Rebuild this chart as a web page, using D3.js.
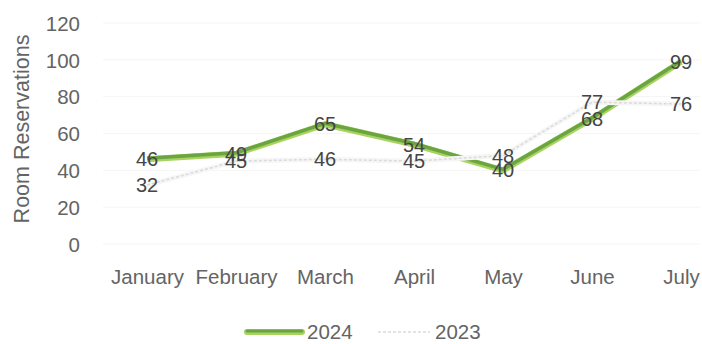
<!DOCTYPE html>
<html>
<head>
<meta charset="utf-8">
<script src="https://cdn.jsdelivr.net/npm/d3@7"></script>
<style>
  html, body { margin: 0; padding: 0; background: #fff; }
  svg { display: block; font-family: "Liberation Sans", Arial, sans-serif; }
</style>
</head>
<body>
<svg id="chart" width="702" height="344"></svg>
<script>
// Monthly room reservations, two years compared
const months = ["January", "February", "March", "April", "May", "June", "July"];
const reservations2024 = [46, 49, 65, 54, 40, 68, 99];
const reservations2023 = [32, 45, 46, 45, 48, 77, 76];
const yTicks = [0, 20, 40, 60, 80, 100, 120];
const seriesNames = ["2024", "2023"];

const svg = d3.select("#chart");

const x = d3.scalePoint().domain(months).range([147, 681]);
const y = d3.scaleLinear().domain([0, 120]).range([244, 23]);

// faint horizontal gridlines
svg.append("g")
  .selectAll("line")
  .data(yTicks)
  .join("line")
  .attr("x1", 103).attr("x2", 700)
  .attr("y1", d => y(d)).attr("y2", d => y(d))
  .attr("stroke", "#f5f5f5").attr("stroke-width", 1);

// y axis (labels only)
const yAxis = d3.axisLeft(y).tickValues(yTicks).tickSize(0).tickPadding(0);
svg.append("g")
  .attr("transform", "translate(80,0)")
  .call(yAxis)
  .call(g => g.select(".domain").remove())
  .call(g => g.selectAll("text")
    .attr("font-family", "Liberation Sans, Arial, sans-serif")
    .attr("font-size", 20.5)
    .attr("fill", "#646464")
    .attr("dy", "0.35em"));

// x axis (labels only)
const xAxis = d3.axisBottom(x).tickSize(0).tickPadding(0);
svg.append("g")
  .attr("transform", "translate(0,277)")
  .call(xAxis)
  .call(g => g.select(".domain").remove())
  .call(g => g.selectAll("text")
    .attr("font-family", "Liberation Sans, Arial, sans-serif")
    .attr("font-size", 20.5)
    .attr("fill", "#646464")
    .attr("dy", "0.35em")
    .attr("y", 0));

// y axis title
svg.append("text")
  .attr("transform", "translate(29,129) rotate(-90)")
  .attr("text-anchor", "middle")
  .attr("font-size", 21.5)
  .attr("fill", "#646464")
  .text("Room Reservations");

const line = d3.line()
  .x((d, i) => x(months[i]))
  .y(d => y(d));

// 2024 series: green line with lighter rim
svg.append("path")
  .datum(reservations2024)
  .attr("d", line)
  .attr("fill", "none")
  .attr("stroke", "#a9d35e")
  .attr("stroke-width", 6)
  .attr("stroke-linejoin", "round");
svg.append("path")
  .datum(reservations2024)
  .attr("d", line)
  .attr("transform", "translate(0,-1)")
  .attr("fill", "none")
  .attr("stroke", "#6aa542")
  .attr("stroke-width", 3.5)
  .attr("stroke-linejoin", "round");

// 2023 series: pale dotted line with a light halo over the 2024 line
svg.append("path")
  .datum(reservations2023)
  .attr("d", line)
  .attr("fill", "none")
  .attr("stroke", "#f6f6f6")
  .attr("stroke-width", 5);
svg.append("path")
  .datum(reservations2023)
  .attr("d", line)
  .attr("fill", "none")
  .attr("stroke", "#dadada")
  .attr("stroke-width", 1.5)
  .attr("stroke-dasharray", "3,2");

// data labels centered on points
function addLabels(values) {
  svg.append("g")
    .selectAll("text")
    .data(values)
    .join("text")
    .attr("x", (d, i) => x(months[i]))
    .attr("y", d => y(d))
    .attr("dy", "0.35em")
    .attr("text-anchor", "middle")
    .attr("font-size", 20)
    .attr("fill", "#454545")
    .text(d => d);
}
addLabels(reservations2023);
addLabels(reservations2024);

// legend
const legend = svg.append("g").attr("transform", "translate(0,332)");
legend.append("line")
  .attr("x1", 247).attr("x2", 302).attr("y1", 0).attr("y2", 0)
  .attr("stroke", "#a9d35e").attr("stroke-width", 6).attr("stroke-linecap", "round");
legend.append("line")
  .attr("x1", 247).attr("x2", 302).attr("y1", -1).attr("y2", -1)
  .attr("stroke", "#6aa542").attr("stroke-width", 3).attr("stroke-linecap", "round");
legend.append("text")
  .attr("x", 307).attr("y", 0).attr("dy", "0.35em")
  .attr("font-size", 20.5).attr("fill", "#646464")
  .text(seriesNames[0]);
legend.append("line")
  .attr("x1", 378).attr("x2", 430).attr("y1", 0).attr("y2", 0)
  .attr("stroke", "#dadada").attr("stroke-width", 1.5).attr("stroke-dasharray", "3,2");
legend.append("text")
  .attr("x", 435).attr("y", 0).attr("dy", "0.35em")
  .attr("font-size", 20.5).attr("fill", "#646464")
  .text(seriesNames[1]);
</script>
</body>
</html>
